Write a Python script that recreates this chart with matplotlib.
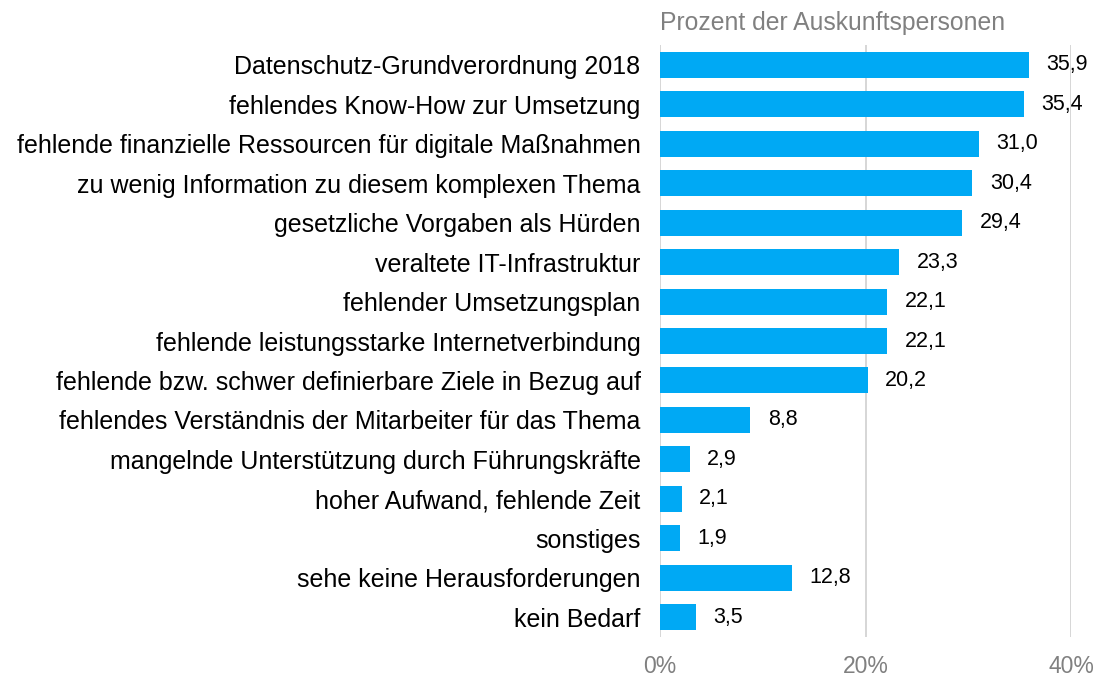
import matplotlib
matplotlib.use("Agg")
import matplotlib.pyplot as plt

plt.rcParams['font.family'] = ['Liberation Sans', 'DejaVu Sans']

kategorien = [
    "Datenschutz-Grundverordnung 2018",
    "fehlendes Know-How zur Umsetzung",
    "fehlende finanzielle Ressourcen für digitale Maßnahmen",
    "zu wenig Information zu diesem komplexen Thema",
    "gesetzliche Vorgaben als Hürden",
    "veraltete IT-Infrastruktur",
    "fehlender Umsetzungsplan",
    "fehlende leistungsstarke Internetverbindung",
    "fehlende bzw. schwer definierbare Ziele in Bezug auf",
    "fehlendes Verständnis der Mitarbeiter für das Thema",
    "mangelnde Unterstützung durch Führungskräfte",
    "hoher Aufwand, fehlende Zeit",
    "sonstiges",
    "sehe keine Herausforderungen",
    "kein Bedarf",
]
werte = [35.9, 35.4, 31.0, 30.4, 29.4, 23.3, 22.1, 22.1, 20.2, 8.8, 2.9, 2.1, 1.9, 12.8, 3.5]
ticks = [0, 20, 40]

blau = '#00A9F4'
grau = '#808080'

fig = plt.figure(figsize=(10.97, 6.78), dpi=100)
ax = fig.add_axes([0.6017, 0.0605, 0.3746, 0.8731])

pos = list(range(len(werte)))
ax.barh(pos, werte, height=0.66, color=blau, zorder=3)
for p, w in zip(pos, werte):
    ax.annotate(f"{w:.1f}".replace('.', ','), (w, p), xytext=(12.5, 0),
                textcoords='offset points', va='center', ha='left', fontsize=15.5)

ax.set_xlim(0, 40)
ax.set_ylim(len(werte) - 0.5, -0.5)
ax.set_yticks(pos)
ax.set_yticklabels(kategorien, fontsize=18)
ax.set_xticks(ticks)
ax.set_xticklabels([f"{t}%" for t in ticks], fontsize=16.5, color=grau)
ax.tick_params(axis='y', length=0, pad=14)
ax.tick_params(axis='x', length=0, pad=13)
ax.grid(axis='x', color='#D0D0D0', linewidth=1.2, zorder=0)
for s in ax.spines.values():
    s.set_visible(False)

ax.text(0, 1.017, "Prozent der Auskunftspersonen", transform=ax.transAxes,
        ha='left', va='bottom', fontsize=17.8, color=grau)

fig.savefig("out.png", dpi=100)
